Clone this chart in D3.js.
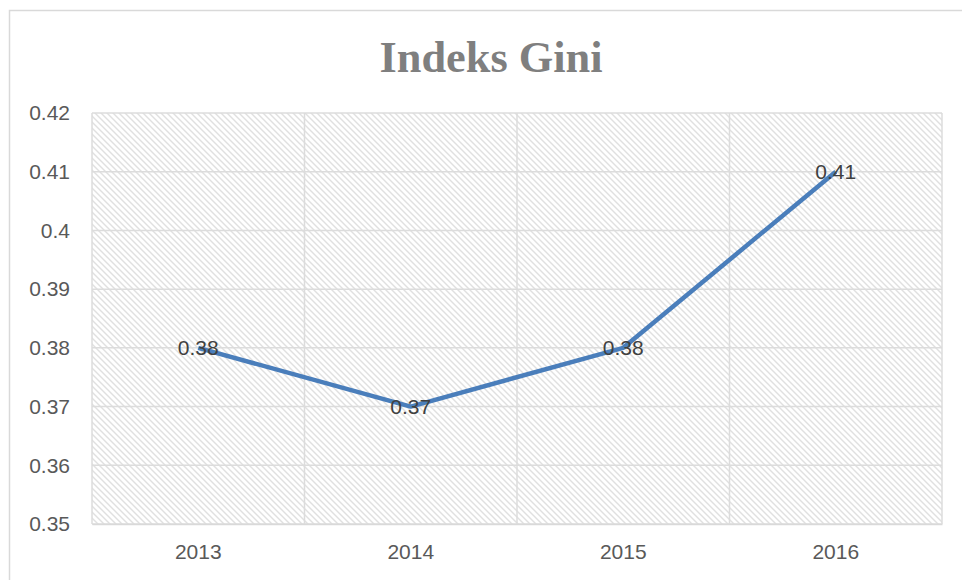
<!DOCTYPE html>
<html><head><meta charset="utf-8">
<script src="https://cdn.jsdelivr.net/npm/d3@7"></script>
<style>body{margin:0;background:#fff;}svg{display:block;}</style>
</head><body>
<svg id="c" width="962" height="580"></svg>
<script>
const categories = ["2013", "2014", "2015", "2016"];
const values = [0.38, 0.37, 0.38, 0.41];
const yTicks = [0.35, 0.36, 0.37, 0.38, 0.39, 0.40, 0.41, 0.42];
const title = "Indeks Gini";

const svg = d3.select("#c");
const L = 92, R = 942, T = 113, B = 524;

const defs = svg.append("defs");
const pat = defs.append("pattern").attr("id","hatch").attr("patternUnits","userSpaceOnUse")
  .attr("width",6).attr("height",6);
pat.append("rect").attr("width",6).attr("height",6).attr("fill","#fff");
pat.append("path").attr("d","M0,0L6,6M-1,5L1,7M5,-1L7,1")
  .attr("stroke","#e0e0e0").attr("stroke-width",1.4);

svg.append("rect").attr("x",9.5).attr("y",10.5).attr("width",1000).attr("height",600)
  .attr("fill","#fff").attr("stroke","#d9d9d9").attr("stroke-width",1.5);

svg.append("text").attr("x",491).attr("y",72).attr("text-anchor","middle")
  .attr("font-family","Liberation Serif, DejaVu Serif, serif").attr("font-weight","bold")
  .attr("font-size",44).attr("fill","#7f7f7f")
  .attr("textLength",223).attr("lengthAdjust","spacingAndGlyphs").text(title);

const x = d3.scaleBand().domain(categories).range([L,R]);
const y = d3.scaleLinear().domain([0.35,0.42]).range([B,T]);

svg.append("rect").attr("x",L).attr("y",T).attr("width",R-L).attr("height",B-T).attr("fill","url(#hatch)");

const g = svg.append("g");
g.selectAll(".hg").data(yTicks).join("line")
  .attr("x1",L).attr("x2",R).attr("y1",d=>y(d)).attr("y2",d=>y(d))
  .attr("stroke","#dcdcdc").attr("stroke-width",1.5);
const vb = categories.map(c=>x(c)).concat([R]);
g.selectAll(".vg").data(vb).join("line")
  .attr("x1",d=>d).attr("x2",d=>d).attr("y1",T).attr("y2",B)
  .attr("stroke","#dcdcdc").attr("stroke-width",1.5);

const yAxis = d3.axisLeft(y).tickValues(yTicks).tickSize(0).tickPadding(22)
  .tickFormat(d=>String(+d.toFixed(2)));
const ya = svg.append("g").attr("transform",`translate(${L},0)`).call(yAxis);
ya.select(".domain").remove();
ya.selectAll("text").attr("font-family","Liberation Sans, Arial, sans-serif").attr("font-size",21).attr("fill","#595959");

const xAxis = d3.axisBottom(x).tickSize(0).tickPadding(20);
const xa = svg.append("g").attr("transform",`translate(0,${B})`).call(xAxis);
xa.select(".domain").attr("stroke","#d9d9d9").attr("stroke-width",1.5);
xa.selectAll("text").attr("font-family","Liberation Sans, Arial, sans-serif").attr("font-size",21).attr("fill","#595959");

const pts = categories.map((c,i)=>[x(c)+x.bandwidth()/2, y(values[i])]);
svg.append("path").attr("d",d3.line()(pts)).attr("fill","none")
  .attr("stroke","#4a7ebb").attr("stroke-width",4.5).attr("stroke-linejoin","round");

svg.selectAll(".lbl").data(values).join("text")
  .attr("x",(d,i)=>x(categories[i])+x.bandwidth()/2)
  .attr("y",d=>y(d)).attr("dy","0.35em").attr("text-anchor","middle")
  .attr("font-family","Liberation Sans, Arial, sans-serif").attr("font-size",21).attr("fill","#404040")
  .text(d=>d.toFixed(2));
</script>
</body></html>
